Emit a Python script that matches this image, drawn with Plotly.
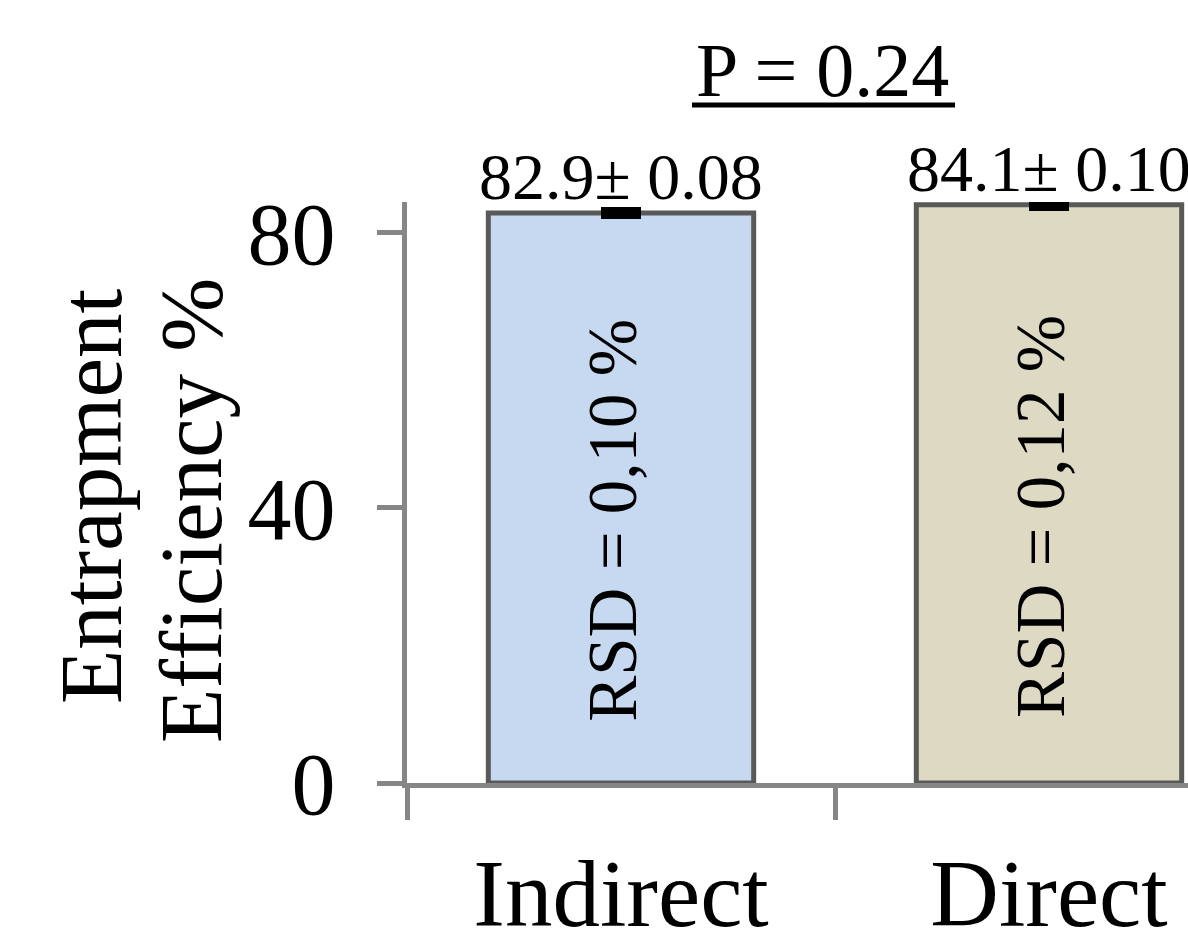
import plotly.graph_objects as go

# Entrapment efficiency by determination method
categories = ["Indirect", "Direct"]
efficiency = [82.9, 84.1]
std_dev = [0.08, 0.10]
rsd_labels = ["RSD = 0,10 %", "RSD = 0,12 %"]
bar_colors = ["#C6D9F1", "#DDD9C3"]
y_tick_values = [0, 40, 80]
p_label = "P = 0.24"
y_title_lines = ["Entrapment", "Efficiency %"]

FONT = "Liberation Serif"
W, H = 1188, 929
L, T, B = 407, 202, 146
plot_w = W - L
plot_h = H - T - B
cat_px = 428  # pixel width of one category slot
axis_color = "#868686"


def paper_x(px):
    return (px - L) / plot_w


def paper_y(py):
    return (H - B - py) / plot_h


fig = go.Figure()
fig.add_trace(go.Bar(
    x=categories,
    y=efficiency,
    width=0.62,
    marker=dict(color=bar_colors, line=dict(color="#595959", width=5)),
    error_y=dict(type="data", array=std_dev, visible=True,
                 color="black", thickness=11, width=20),
    showlegend=False,
))

annotations = []
# mean ± SD above each bar
for c, v, e in zip(categories, efficiency, std_dev):
    annotations.append(dict(
        x=c, y=v + e, xref="x", yref="y", text=f"{v:.1f}± {e:.2f}",
        showarrow=False, yanchor="bottom", yshift=-3,
        font=dict(family=FONT, size=66, color="black"),
    ))
# RSD written vertically inside each bar
for c, v, r in zip(categories, efficiency, rsd_labels):
    annotations.append(dict(
        x=c, y=v * 0.46, xref="x", yref="y", text=r, textangle=-90,
        showarrow=False, xshift=-8,
        font=dict(family=FONT, size=69, color="black"),
    ))
# two-line y axis title
for line, cx, cy in zip(y_title_lines, [91, 191], [497, 511]):
    annotations.append(dict(
        x=paper_x(cx), y=paper_y(cy), xref="paper", yref="paper",
        text=line, textangle=-90, showarrow=False,
        xanchor="center", yanchor="middle",
        font=dict(family=FONT, size=89, color="black"),
    ))
# significance label
annotations.append(dict(
    x=paper_x(822), y=paper_y(70), xref="paper", yref="paper",
    text=p_label, showarrow=False, xanchor="center", yanchor="middle",
    font=dict(family=FONT, size=76, color="black"),
))

fig.update_layout(
    width=W, height=H,
    margin=dict(l=L, r=0, t=T, b=B, pad=0, autoexpand=False),
    paper_bgcolor="white", plot_bgcolor="white",
    annotations=annotations,
    shapes=[dict(type="line", xref="paper", yref="paper",
                 x0=paper_x(692), x1=paper_x(955),
                 y0=paper_y(105), y1=paper_y(105),
                 line=dict(color="black", width=5))],
    xaxis=dict(
        range=[-0.5, -0.5 + plot_w / cat_px],
        automargin=False,
        showline=True, linecolor=axis_color, linewidth=5,
        ticks="outside", tickson="boundaries", ticklen=32,
        tickwidth=5, tickcolor=axis_color,
        tickfont=dict(family=FONT, size=95, color="black"),
        ticklabelstandoff=24,
        showgrid=False, zeroline=False,
    ),
    yaxis=dict(
        range=[0, 84.5],
        automargin=False,
        tickvals=y_tick_values,
        showline=True, linecolor=axis_color, linewidth=5,
        ticks="outside", ticklen=25, tickwidth=5, tickcolor=axis_color,
        tickfont=dict(family=FONT, size=88, color="black"),
        ticklabelstandoff=24,
        showgrid=False, zeroline=False,
    ),
)

fig.write_html("out.html")
